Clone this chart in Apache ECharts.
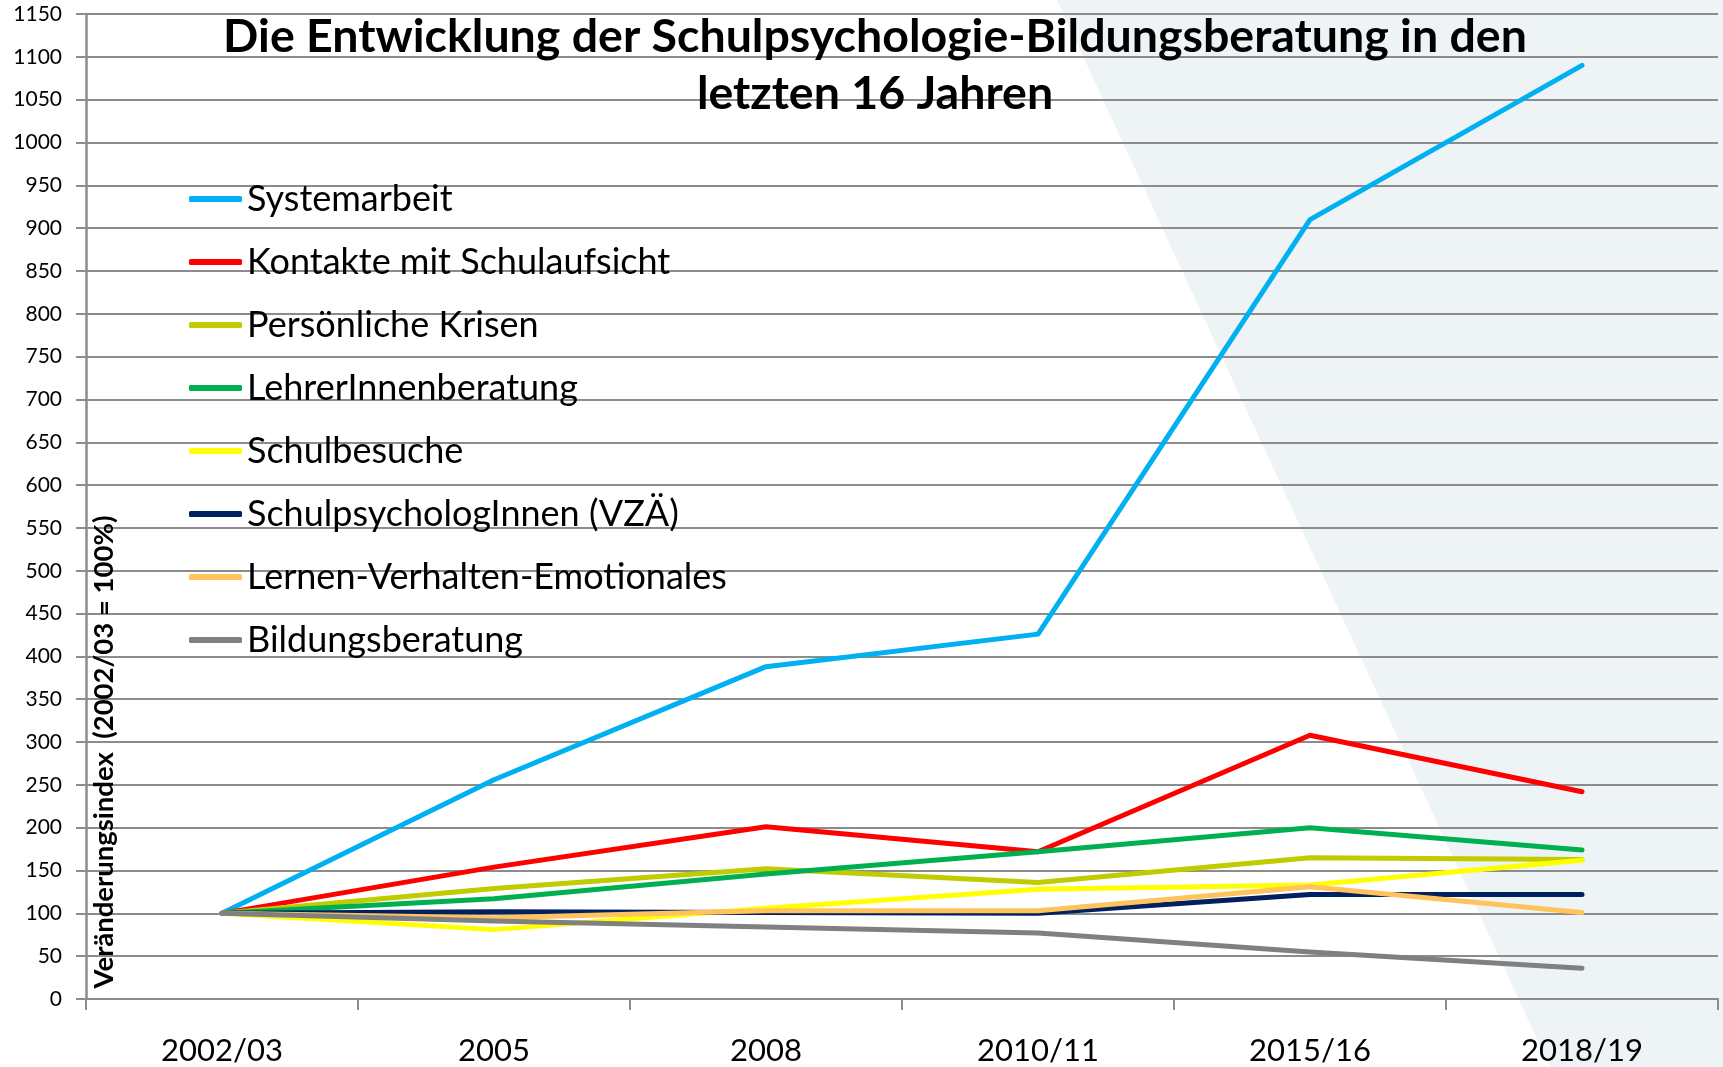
<!DOCTYPE html>
<html>
<head>
<meta charset="utf-8">
<script src="https://cdn.jsdelivr.net/npm/echarts@6/dist/echarts.min.js"></script>
<style>
html,body{margin:0;padding:0;background:#fff;}
#chart{width:1723px;height:1067px;}
</style>
</head>
<body>
<div id="chart"></div>
<script>
var categories = ['2002/03', '2005', '2008', '2010/11', '2015/16', '2018/19'];
var seriesNames = ['Systemarbeit', 'Kontakte mit Schulaufsicht', 'Persönliche Krisen', 'LehrerInnenberatung', 'Schulbesuche', 'SchulpsychologInnen (VZÄ)', 'Lernen-Verhalten-Emotionales', 'Bildungsberatung'];
var systemarbeit = [100, 256, 388, 426, 910, 1090];
var kontakte = [100, 154, 201, 172, 308, 242];
var krisen = [100, 129, 152, 136, 165, 163];
var lehrer = [100, 117, 146, 172, 200, 174];
var schulbesuche = [100, 81, 106, 128, 133, 162];
var vza = [100, 102, 101, 100, 122, 122];
var lernen = [100, 95, 103, 103, 131, 101];
var bildung = [100, 91, 84, 77, 55, 36];
var yTicks = {min: 0, max: 1150, interval: 50};

var colors = ['#00B0F0', '#FF0000', '#BFCC00', '#00B050', '#FFFF00', '#002060', '#FFC35E', '#808080'];
var values = [systemarbeit, kontakte, krisen, lehrer, schulbesuche, vza, lernen, bildung];

var chart = echarts.init(document.getElementById('chart'), null, {renderer: 'canvas'});
var FONT = 'Lato, "Noto Sans", sans-serif';

var series = seriesNames.map(function (name, i) {
  return {
    name: name,
    type: 'line',
    data: values[i],
    symbol: 'none',
    smooth: false,
    z: 2 + i,
    lineStyle: {width: 5, color: colors[i], cap: 'round', join: 'round'},
    itemStyle: {color: colors[i]},
    emphasis: {disabled: true},
    animation: false
  };
});

chart.setOption({
  animation: false,
  backgroundColor: '#ffffff',
  graphic: [
    {
      type: 'polygon',
      z: -10,
      silent: true,
      shape: {points: [[1057, 0], [1723, 0], [1723, 1067], [1550, 1067]]},
      style: {fill: '#EEF3F6'}
    },
    {
      type: 'text',
      z: 50,
      silent: true,
      x: 104, y: 752,
      rotation: Math.PI / 2,
      style: {
        text: 'Veränderungsindex  (2002/03 = 100%)',
        font: 'bold 27.5px ' + FONT,
        fill: '#000',
        textAlign: 'center',
        textVerticalAlign: 'middle'
      }
    }
  ],
  title: {
    text: 'Die Entwicklung der Schulpsychologie-Bildungsberatung in den\nletzten 16 Jahren',
    left: 870,
    top: 3,
    textAlign: 'center',
    padding: 5,
    textStyle: {fontFamily: FONT, fontSize: 46.5, fontWeight: 'bold', color: '#000', lineHeight: 57, align: 'center'}
  },
  legend: {
    orient: 'vertical',
    left: 189,
    top: 179,
    itemWidth: 53,
    itemHeight: 6,
    itemGap: 23,
    icon: 'roundRect',
    padding: 0,
    textStyle: {fontFamily: FONT, fontSize: 36, color: '#000', lineHeight: 40, padding: [0, 0, 0, 0]},
    data: seriesNames,
    selectedMode: false
  },
  grid: {left: 86, right: 5, top: 14, bottom: 68, containLabel: false},
  xAxis: {
    type: 'category',
    data: categories,
    boundaryGap: true,
    axisLine: {show: true, lineStyle: {color: '#8C8C8C', width: 2}},
    axisTick: {show: true, length: 11, alignWithLabel: false, lineStyle: {color: '#8C8C8C', width: 2}},
    axisLabel: {fontFamily: FONT, fontSize: 31, color: '#000', margin: 36},
    splitLine: {show: false}
  },
  yAxis: {
    type: 'value',
    min: yTicks.min,
    max: yTicks.max,
    interval: yTicks.interval,
    axisLine: {show: true, lineStyle: {color: '#8C8C8C', width: 2.5}},
    axisTick: {show: true, length: 10, lineStyle: {color: '#8C8C8C', width: 2}},
    axisLabel: {fontFamily: FONT, fontSize: 21, color: '#000', margin: 24, formatter: function (v) { return String(v); }},
    splitLine: {show: true, lineStyle: {color: '#8C8C8C', width: 2}}
  },
  series: series
});
</script>
</body>
</html>
